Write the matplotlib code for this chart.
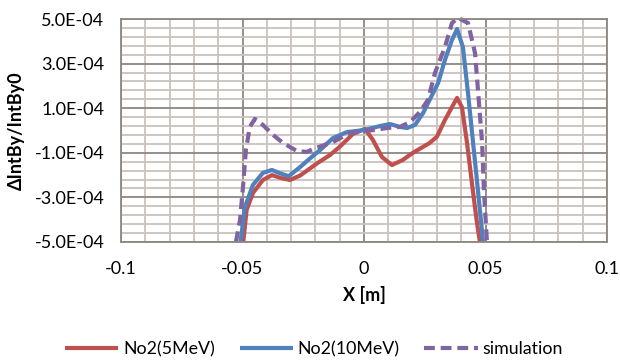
import matplotlib
matplotlib.use("Agg")
import matplotlib.pyplot as plt
import numpy as np
from matplotlib.ticker import FixedLocator

plt.rcParams["font.family"] = ["Lato", "DejaVu Sans"]

# curves (x in m, y in units of 1e-4)
red_x = [-0.0497, -0.0483, -0.0457, -0.0416, -0.0379, -0.0345, -0.0305, -0.0263, -0.0190,
         -0.0140, -0.0099, -0.0045, 0.0004, 0.0037, 0.0074, 0.0115, 0.0160, 0.0200, 0.0270,
         0.0300, 0.0333, 0.0362, 0.0383, 0.0403, 0.0424, 0.0444, 0.0465, 0.0477]
red_y = [-5.0, -3.56, -2.80, -2.22, -2.00, -2.12, -2.22, -2.02, -1.45,
         -1.10, -0.72, -0.15, 0.07, -0.43, -1.19, -1.55, -1.32, -1.01, -0.56,
         -0.28, 0.47, 1.05, 1.46, 1.05, -0.56, -2.35, -4.15, -5.0]

blue_x = [-0.0508, -0.0490, -0.0457, -0.0416, -0.0379, -0.0345, -0.0310, -0.0263, -0.0222,
          -0.0180, -0.0128, -0.0070, 0.0000, 0.0066, 0.0107, 0.0148, 0.0177, 0.0210, 0.0243,
          0.0270, 0.0305, 0.0333, 0.0362, 0.0383, 0.0407, 0.0428, 0.0449, 0.0470, 0.0490]
blue_y = [-5.0, -3.43, -2.44, -1.90, -1.77, -1.92, -2.05, -1.64, -1.25,
          -0.87, -0.34, -0.07, 0.02, 0.20, 0.29, 0.16, 0.11, 0.25, 0.78,
          1.37, 2.13, 3.16, 4.06, 4.55, 3.74, 1.68, -0.56, -2.80, -5.0]

sim_x = [-0.0527, -0.0510, -0.0498, -0.0486, -0.0470, -0.0449, -0.0416, -0.0374, -0.0333,
         -0.0276, -0.0235, -0.0210, -0.0128, -0.0058, 0.0012, 0.0095, 0.0148, 0.0190,
         0.0230, 0.0263, 0.0292, 0.0333, 0.0362, 0.0387, 0.0428, 0.0457, 0.0470, 0.0486,
         0.0494, 0.0506]
sim_y = [-5.0, -4.0, -2.53, -0.87, 0.16, 0.52, 0.25, -0.20, -0.56,
         -0.92, -0.96, -0.83, -0.52, -0.11, -0.02, 0.11, 0.16, 0.38,
         0.83, 1.37, 2.58, 3.74, 4.82, 5.05, 4.82, 3.47, 1.68, -0.56,
         -2.80, -5.0]

x_ticks = [-0.1, -0.05, 0, 0.05, 0.1]
x_tick_labels = ["-0.1", "-0.05", "0", "0.05", "0.1"]
y_ticks = [-5e-4, -3e-4, -1e-4, 1e-4, 3e-4, 5e-4]
y_tick_labels = ["-5.0E-04", "-3.0E-04", "-1.0E-04", "1.0E-04", "3.0E-04", "5.0E-04"]

major_c = "#8f8680"
minor_c = "#cbc2bc"

# minor grid: every 0.01 in x, every 4e-5 in y, skipping the major positions
x_minor = [i / 100 for i in range(-10, 11) if i % 5 != 0]
y_minor = [(-5 + 0.4 * i) * 1e-4 for i in range(26) if i % 5 != 0]

fig = plt.figure(figsize=(6.2, 3.61), dpi=100)
ax = fig.add_axes([121 / 620, 1 - 242 / 361, 486 / 620, 223 / 361])

ax.set_xlim(-0.1, 0.1)
ax.set_ylim(-5e-4, 5e-4)
ax.xaxis.set_major_locator(FixedLocator(x_ticks))
ax.xaxis.set_minor_locator(FixedLocator(x_minor))
ax.yaxis.set_major_locator(FixedLocator(y_ticks))
ax.yaxis.set_minor_locator(FixedLocator(y_minor))
ax.set_xticklabels(x_tick_labels)
ax.set_yticklabels(y_tick_labels)
ax.grid(which="minor", color=minor_c, linewidth=1.3, linestyle="-")
ax.grid(which="major", color=major_c, linewidth=1.3, linestyle="-")
ax.set_axisbelow(True)
ax.tick_params(which="both", length=0)
ax.tick_params(axis="y", pad=12, labelsize=13)
ax.tick_params(axis="x", pad=14, labelsize=13)
for sp in ax.spines.values():
    sp.set_color(major_c)
    sp.set_linewidth(1.3)

ax.plot(red_x, np.array(red_y) * 1e-4, color="#c0504d", lw=3.0, label="No2(5MeV)",
        solid_capstyle="butt", solid_joinstyle="round", clip_on=False)
ax.plot(blue_x, np.array(blue_y) * 1e-4, color="#4f81bd", lw=3.0, label="No2(10MeV)",
        solid_capstyle="butt", solid_joinstyle="round", clip_on=False)
ax.plot(sim_x, np.array(sim_y) * 1e-4, color="#8064a2", lw=3.0, ls=(0, (2.6, 1.4)),
        label="simulation", dash_capstyle="butt", clip_on=False)

ax.set_xlabel("X [m]", fontsize=13, fontweight="bold", labelpad=6)
ax.set_ylabel("\u0394IntBy/IntBy0", fontsize=13, fontweight="bold", labelpad=7)

fig.legend(loc="center", bbox_to_anchor=(0.506, 1 - 349 / 361), ncol=3, frameon=False,
           fontsize=12.8, handlelength=3.0, columnspacing=1.4, handletextpad=0.25)

fig.savefig("out.png", dpi=100, facecolor="white")
